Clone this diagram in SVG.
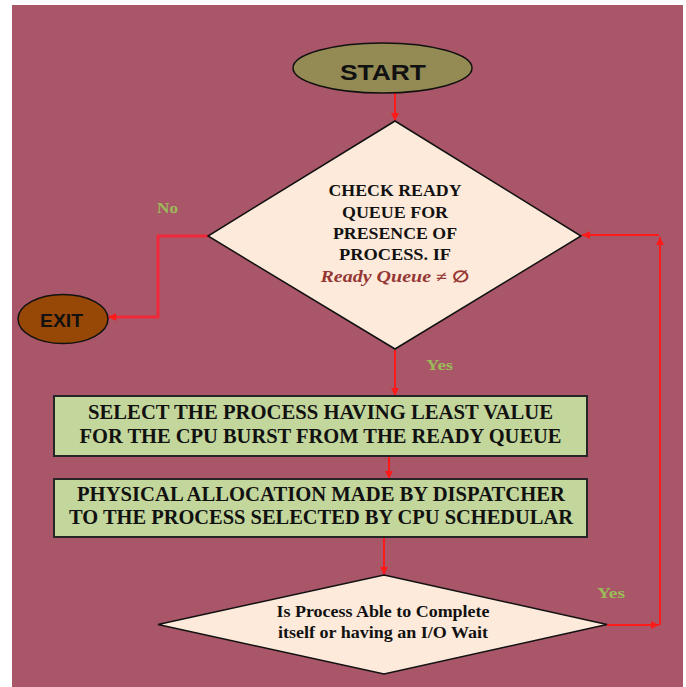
<svg xmlns="http://www.w3.org/2000/svg" width="686" height="687" viewBox="0 0 686 687">
<defs>
<marker id="ah" viewBox="0 0 10 10" refX="10" refY="5" markerWidth="8" markerHeight="8" markerUnits="userSpaceOnUse" orient="auto">
<path d="M0,0 L10,5 L0,10 z" fill="#FF1A1A"/>
</marker>
<style>
.bg{fill:#A95668}
.conn{fill:none;stroke:#FF1A1A;stroke-width:2}
.conn2{fill:none;stroke:#F0283A;stroke-width:3}
.dia{fill:#FDEADA;stroke:#111;stroke-width:1.5}
.box{fill:#C3D69B;stroke:#262626;stroke-width:2}
.ser{font-family:"Liberation Serif","Times New Roman",serif;font-weight:bold;fill:#111;text-anchor:middle}
.san{font-family:"Liberation Sans",Arial,sans-serif;font-weight:bold;fill:#111;text-anchor:middle}
.lbl{font-family:"Liberation Serif","Times New Roman",serif;font-weight:bold;fill:#9BBB59;font-size:15px}
</style>
</defs>
<rect x="0" y="0" width="686" height="687" fill="#ffffff"/>
<rect class="bg" x="12" y="5" width="671" height="682"/>

<g id="connectors">
<line class="conn" x1="395" y1="93" x2="395" y2="121" marker-end="url(#ah)"/>
<polyline class="conn2" points="208,236 158,236 158,317 108,317" marker-end="url(#ah)"/>
<line class="conn" x1="395" y1="350" x2="395" y2="396" marker-end="url(#ah)"/>
<line class="conn" x1="389" y1="456" x2="389" y2="479" marker-end="url(#ah)"/>
<line class="conn" x1="384" y1="537" x2="384" y2="575" marker-end="url(#ah)"/>
<line class="conn" x1="607" y1="625" x2="659" y2="625" marker-end="url(#ah)"/>
<line class="conn" x1="660" y1="625" x2="660" y2="237" marker-end="url(#ah)"/>
<line class="conn" x1="659" y1="235" x2="582" y2="235" marker-end="url(#ah)"/>
</g>

<g id="start">
<ellipse cx="382.5" cy="68" rx="89.5" ry="25" fill="#948A54" stroke="#111" stroke-width="1.5"/>
<text class="san" x="383" y="79.5" font-size="22" textLength="86" lengthAdjust="spacingAndGlyphs">START</text>
</g>

<g id="check">
<polygon class="dia" points="395,121 581,236 395,349 208,236"/>
<text class="ser" x="395" y="196" font-size="16" textLength="133" lengthAdjust="spacingAndGlyphs">CHECK READY</text>
<text class="ser" x="395" y="218" font-size="16" textLength="106" lengthAdjust="spacingAndGlyphs">QUEUE FOR</text>
<text class="ser" x="395" y="239" font-size="16" textLength="124" lengthAdjust="spacingAndGlyphs">PRESENCE OF</text>
<text class="ser" x="395" y="260" font-size="16" textLength="112" lengthAdjust="spacingAndGlyphs">PROCESS. IF</text>
<text class="ser" x="395" y="281.5" font-size="16" style="fill:#953735" textLength="149" lengthAdjust="spacingAndGlyphs"><tspan font-style="italic">Ready Queue</tspan> ≠ ∅</text>
</g>

<g id="exit">
<ellipse cx="63" cy="319" rx="45" ry="24.5" fill="#974706" stroke="#111" stroke-width="1.5"/>
<text class="san" x="61.5" y="326.5" font-size="18" textLength="43" lengthAdjust="spacingAndGlyphs">EXIT</text>
</g>

<g id="select">
<rect class="box" x="54" y="396" width="533" height="60"/>
<text class="ser" x="320.5" y="419" font-size="20" textLength="465" lengthAdjust="spacingAndGlyphs">SELECT THE PROCESS HAVING LEAST VALUE</text>
<text class="ser" x="320.5" y="443" font-size="20" textLength="482" lengthAdjust="spacingAndGlyphs">FOR THE CPU BURST FROM THE READY QUEUE</text>
</g>

<g id="dispatch">
<rect class="box" x="54" y="479" width="533" height="58"/>
<text class="ser" x="321" y="500.5" font-size="20" textLength="488" lengthAdjust="spacingAndGlyphs">PHYSICAL ALLOCATION MADE BY DISPATCHER</text>
<text class="ser" x="321" y="523.5" font-size="20" textLength="504" lengthAdjust="spacingAndGlyphs">TO THE PROCESS SELECTED BY CPU SCHEDULAR</text>
</g>

<g id="complete">
<polygon class="dia" points="384,575 607,624.5 384,674 158,624.5"/>
<text class="ser" x="383" y="617" font-size="16" textLength="213" lengthAdjust="spacingAndGlyphs">Is Process Able to Complete</text>
<text class="ser" x="383" y="637.5" font-size="16" textLength="210" lengthAdjust="spacingAndGlyphs">itself or having an I/O Wait</text>
</g>

<g id="labels">
<text class="lbl" x="157" y="213" textLength="21" lengthAdjust="spacingAndGlyphs">No</text>
<text class="lbl" x="426" y="369.5" textLength="27" lengthAdjust="spacingAndGlyphs">Yes</text>
<text class="lbl" x="597" y="597.5" textLength="28" lengthAdjust="spacingAndGlyphs">Yes</text>
</g>
</svg>
